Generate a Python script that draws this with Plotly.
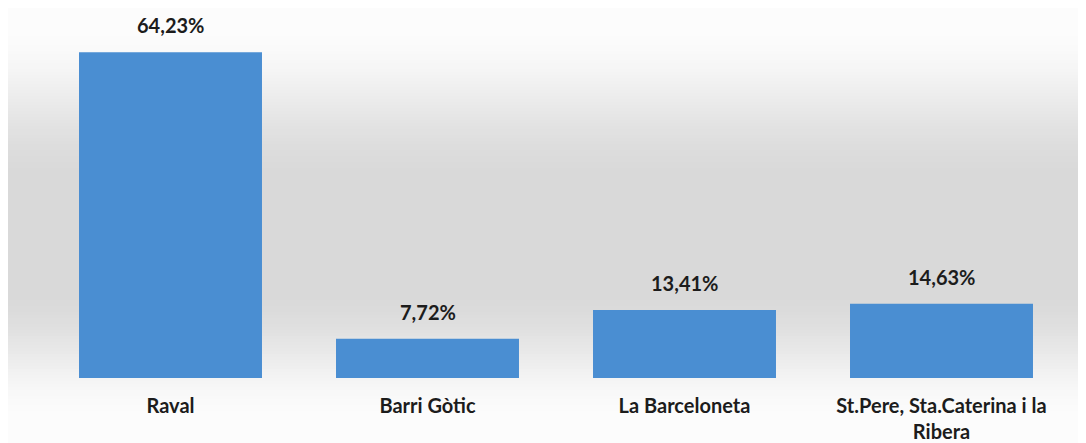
import plotly.graph_objects as go

categories = ["Raval", "Barri Gòtic", "La Barceloneta", "St.Pere, Sta.Caterina i la<br>Ribera"]
values = [64.23, 7.72, 13.41, 14.63]
value_labels = ["64,23%", "7,72%", "13,41%", "14,63%"]

FONT = "Lato"
TXT = "#1c1c1c"
FS = 20

fig = go.Figure()
fig.add_trace(go.Bar(
    x=categories, y=values,
    marker=dict(color="#4a8ed2", line=dict(width=0)),
    width=0.712,
    hoverinfo="skip",
))

annotations = []
for c, v, t in zip(categories, values, value_labels):
    annotations.append(dict(
        x=c, y=v, text=f"<b>{t}</b>", showarrow=False,
        yanchor="bottom", yshift=13,
        font=dict(family=FONT, size=FS, color=TXT),
    ))

# page geometry (page has an 8px body offset)
PLOT_TOP, PLOT_BOT = 23, 378
H = PLOT_BOT - PLOT_TOP


def gray_at(Y):
    if Y <= 25:
        return 252
    if Y <= 180:
        t = (Y - 25) / 155
        return 252 - 35 * (t * t * (3 - 2 * t))
    if Y <= 290:
        return 217
    if Y <= 420:
        t = (Y - 290) / 130
        return 217 + 35 * (t * t * (3 - 2 * t))
    return 252


shapes = []
step = 3
for Y in range(0, 455, step):
    g = int(round(gray_at(Y + step / 2)))
    y1 = (PLOT_BOT - Y) / H
    y0 = (PLOT_BOT - (Y + step)) / H
    shapes.append(dict(
        type="rect", xref="paper", yref="paper",
        x0=-0.1, x1=1.1, y0=y0 - 0.001, y1=y1,
        fillcolor=f"rgb({g},{g},{g})", line=dict(width=0), layer="below",
    ))

fig.update_layout(
    width=1086, height=443,
    margin=dict(l=34, r=24, t=15, b=73),
    paper_bgcolor="white",
    plot_bgcolor="rgba(0,0,0,0)",
    showlegend=False,
    annotations=annotations,
    shapes=shapes,
    bargap=0.288,
    xaxis=dict(
        showgrid=False, showline=False, zeroline=False,
        tickfont=dict(family=FONT, size=FS, color=TXT),
        ticks="", ticklabelstandoff=14,
        tickvals=categories,
        ticktext=[f"<b>{c}</b>" for c in categories],
        automargin=False,
    ),
    yaxis=dict(
        range=[0, 70], showgrid=False, showline=False, zeroline=False,
        showticklabels=False, ticks="",
    ),
)

fig.write_html("out.html")
